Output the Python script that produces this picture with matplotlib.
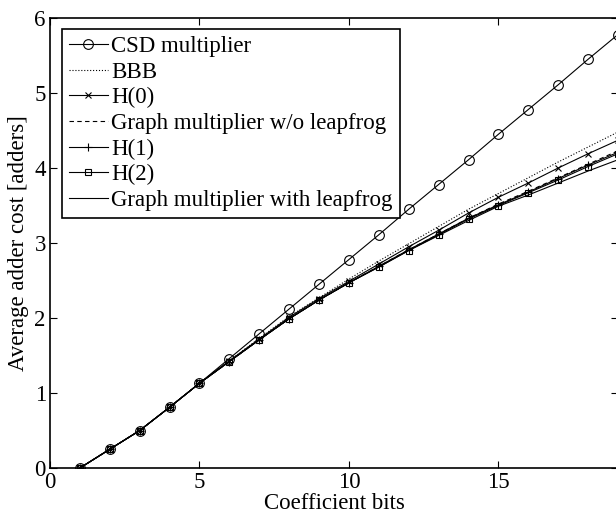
import numpy as np
import matplotlib
matplotlib.use("Agg")
import matplotlib.pyplot as plt

plt.rcParams['font.family'] = ['Liberation Serif', 'DejaVu Serif']
plt.rcParams['font.size'] = 16.5

# coefficient bits
bits = np.arange(1, 20)

# average adder cost
csd = [0, 0.25, 0.5, 0.81, 1.13, 1.46, 1.79, 2.12, 2.45, 2.78,
       3.11, 3.45, 3.78, 4.11, 4.45, 4.78, 5.11, 5.45, 5.78]
bbb = [0, 0.25, 0.5, 0.81, 1.13, 1.43, 1.73, 2.02, 2.27, 2.52,
       2.76, 2.99, 3.22, 3.45, 3.66, 3.87, 4.08, 4.28, 4.48]
h0 = [0, 0.25, 0.5, 0.81, 1.13, 1.43, 1.72, 2.01, 2.26, 2.49,
      2.72, 2.95, 3.17, 3.40, 3.61, 3.80, 4.00, 4.19, 4.37]
graph_nolf = [0, 0.25, 0.5, 0.81, 1.13, 1.42, 1.71, 1.99, 2.24, 2.47,
              2.69, 2.91, 3.12, 3.33, 3.52, 3.69, 3.87, 4.05, 4.23]
h1 = [0, 0.25, 0.5, 0.81, 1.13, 1.42, 1.71, 1.99, 2.24, 2.47,
      2.69, 2.91, 3.12, 3.33, 3.51, 3.68, 3.86, 4.04, 4.21]
h2 = [0, 0.25, 0.5, 0.81, 1.13, 1.42, 1.71, 1.99, 2.24, 2.47,
      2.68, 2.90, 3.11, 3.32, 3.50, 3.67, 3.84, 4.02, 4.19]
graph_lf = [0, 0.25, 0.5, 0.81, 1.13, 1.42, 1.71, 1.99, 2.24, 2.47,
            2.68, 2.90, 3.10, 3.30, 3.49, 3.64, 3.80, 3.96, 4.11]

fig = plt.figure(figsize=(6.16, 5.15), dpi=100)
ax = fig.add_axes([50/616, 47/515, 568/616, 450/515])

lw = 0.8
ax.plot(bits, csd, 'k-o', lw=lw, ms=7, mfc='none', mew=0.8, label='CSD multiplier')
ax.plot(bits, bbb, 'k:', lw=lw, label='BBB')
ax.plot(bits, h0, 'k-x', lw=lw, ms=5, mew=0.8, label='H(0)')
ax.plot(bits, graph_nolf, 'k', ls=(0, (4, 3)), lw=lw, label='Graph multiplier w/o leapfrog')
ax.plot(bits, h1, 'k-+', lw=lw, ms=6, mew=0.8, label='H(1)')
ax.plot(bits, h2, 'k-s', lw=lw, ms=4.5, mfc='none', mew=0.8, label='H(2)')
ax.plot(bits, graph_lf, 'k-', lw=lw, label='Graph multiplier with leapfrog')

ax.set_xlim(0, 19)
ax.set_ylim(0, 6)
ax.set_xticks([0, 5, 10, 15])
ax.set_yticks(range(7))
ax.tick_params(direction='in', length=5, width=0.8, top=True, right=True)
ax.tick_params(axis='x', pad=3)
ax.tick_params(axis='y', pad=3)
for s in ax.spines.values():
    s.set_linewidth(1.2)

ax.set_xlabel('Coefficient bits', labelpad=0)
ax.set_ylabel('Average adder cost [adders]', labelpad=4)

leg = ax.legend(loc='upper left', bbox_to_anchor=(12/568, 439/450), borderaxespad=0,
                fancybox=False, edgecolor='k', framealpha=1, numpoints=1,
                handlelength=1.7, handletextpad=0.15, labelspacing=0.2,
                borderpad=0.3)
leg.get_frame().set_linewidth(1.2)

fig.savefig('out.png', dpi=100)
